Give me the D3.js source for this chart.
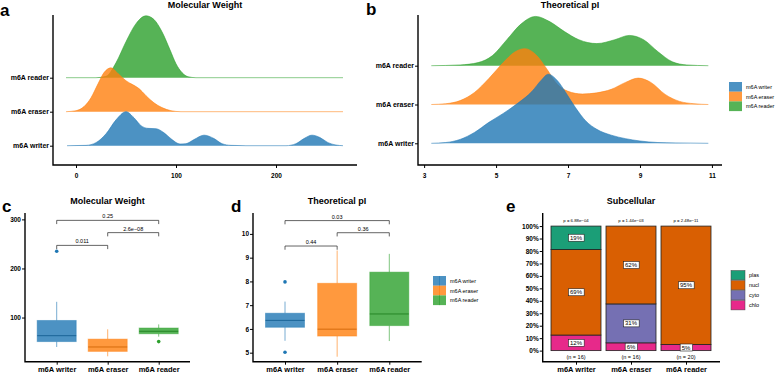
<!DOCTYPE html>
<html lang="en">
<head>
<meta charset="UTF-8">
<title>m6A regulators: molecular weight, pI and subcellular location</title>
<script src="https://d3js.org/d3.v7.min.js"></script>
<style>
    body { margin: 0; background: #fff; }
    svg { font-family: 'Liberation Sans', Arial, sans-serif; }
    svg text { fill: #000; }
    .tick text { font-size: 6.5px; font-weight: bold; fill: #000; }
    .tick line { stroke: #000; stroke-width: 1; }
    .frame { fill: none; stroke: #000; stroke-width: 1.4; }
    .title { font-size: 9px; font-weight: bold; text-anchor: middle; }
    .letter { font-size: 17px; font-weight: bold; }
    .legend text { font-size: 5.5px; }
</style>
</head>
<body>
<svg id="chart" width="778" height="374"></svg>
<script>
const groups = ["m6A writer", "m6A eraser", "m6A reader"];
const groupColors = ["#1f77b4", "#ff7f0e", "#2ca02c"];

// ridge profiles: [value, height in row steps]
const mwWriter = [[-9,0],[10,0.01],[20,0.09],[30,0.35],[40,0.76],[50,1.0],[58,0.82],[65,0.59],[72,0.51],[80,0.5],[88,0.38],[96,0.18],[104,0.05],[110,0.06],[118,0.18],[128,0.31],[138,0.21],[146,0.06],[155,0.01],[170,0],[210,0],[220,0.06],[228,0.21],[236,0.31],[244,0.24],[252,0.09],[260,0.02],[267,0]];
const mwEraser = [[-10,0],[0,0.03],[8,0.15],[15,0.41],[22,0.82],[28,1.15],[35,1.29],[42,1.12],[50,0.91],[57,0.79],[63,0.68],[70,0.47],[78,0.26],[86,0.12],[95,0.03],[105,0],[267,0]];
const mwReader = [[-10,0],[20,0],[30,0.04],[40,0.44],[50,1.06],[60,1.59],[70,1.82],[78,1.71],[86,1.35],[94,0.82],[100,0.41],[106,0.15],[112,0.03],[120,0],[267,0]];

const piWriter = [[3.2,0],[3.6,0.02],[4.0,0.1],[4.4,0.28],[4.8,0.54],[5.2,0.77],[5.6,1.03],[6.0,1.34],[6.25,1.62],[6.45,1.78],[6.7,1.62],[6.95,1.29],[7.2,0.93],[7.5,0.57],[7.8,0.36],[8.2,0.21],[8.6,0.12],[9.0,0.06],[9.5,0.02],[10.0,0.01],[10.9,0]];
const piEraser = [[3.2,0],[3.6,0.02],[4.0,0.1],[4.4,0.31],[4.8,0.67],[5.2,1.08],[5.5,1.34],[5.8,1.44],[6.1,1.29],[6.4,0.93],[6.7,0.52],[7.0,0.34],[7.4,0.27],[7.8,0.3],[8.2,0.39],[8.6,0.57],[8.95,0.68],[9.3,0.57],[9.7,0.26],[10.1,0.08],[10.5,0.02],[10.9,0]];
const piReader = [[3.2,0],[4.0,0.02],[4.5,0.08],[4.9,0.26],[5.3,0.67],[5.7,1.08],[6.1,1.27],[6.5,1.13],[6.9,0.88],[7.3,0.67],[7.8,0.57],[8.3,0.67],[8.7,0.78],[9.1,0.67],[9.5,0.36],[9.9,0.1],[10.3,0.02],[10.9,0]];

const mwTicks = [0, 100, 200];
const piTicks = [3, 5, 7, 9, 11];

// boxplot stats: [lower whisker, q1, median, q3, upper whisker]
const mwStats = [[40, 51, 63, 94, 132], [21, 31, 40, 56, 76], [61, 67, 72, 78.6, 86]];
const mwOutliers = [[235], [], [51]];
const mwBoxTicks = [100, 200, 300];
const mwTests = [["m6A writer", "m6A eraser", "0.011", 247], ["m6A eraser", "m6A reader", "2.6e\u221208", 273], ["m6A writer", "m6A reader", "0.25", 298]];

const piStats = [[5.5, 6.07, 6.36, 6.66, 7.15], [4.83, 5.7, 5.99, 7.92, 9.3], [5.49, 6.14, 6.63, 8.39, 9.16]];
const piOutliers = [[7.98, 5.02], [], []];
const piBoxTicks = [5, 6, 7, 8, 9, 10];
const piTests = [["m6A writer", "m6A eraser", "0.44", 9.49], ["m6A eraser", "m6A reader", "0.36", 10.05], ["m6A writer", "m6A reader", "0.03", 10.56]];

// subcellular counts, stacked bottom to top
const subClasses = ["chlo", "cyto", "nucl", "plas"];
const subColors = ["#e7298a", "#7570b3", "#d95f02", "#1b9e77"];
const writerCounts = [2, 0, 11, 3];
const eraserCounts = [1, 5, 10, 0];
const readerCounts = [1, 0, 19, 0];
const subPvalues = ["p = 6.88e\u221204", "p = 1.44e\u221203", "p = 2.48e\u221211"];
const pctTicks = [0, 0.1, 0.2, 0.3, 0.4, 0.5, 0.6, 0.7, 0.8, 0.9, 1];

const svg = d3.select("#chart");

function frame(left, top, right, bottom) {
    svg.append("path").attr("class", "frame")
        .attr("d", `M${left},${top}V${bottom}H${right}`);
}

function letter(txt, x, y) {
    svg.append("text").attr("class", "letter").attr("x", x).attr("y", y).text(txt);
}

function title(txt, x, y) {
    svg.append("text").attr("class", "title").attr("x", x).attr("y", y).text(txt);
}

function ridgePanel(p) {
    const x = d3.scaleLinear().domain(p.xDomain).range([p.left, p.right]);
    const y = d3.scalePoint().domain(groups).range([p.base0, p.base2]);
    const h = d3.scaleLinear().domain([0, 1]).range([0, p.step]);

    // reader first so the lower ridges overlap it
    [2, 1, 0].forEach(i => {
        const b = y(groups[i]);
        const area = d3.area().x(d => x(d[0])).y0(b).y1(d => b - h(d[1])).curve(d3.curveMonotoneX);
        const line = d3.line().x(d => x(d[0])).y(d => b - h(d[1])).curve(d3.curveMonotoneX);
        svg.append("path").datum(p.series[i]).attr("d", area)
            .attr("fill", groupColors[i]).attr("fill-opacity", 0.8);
        svg.append("path").datum(p.series[i]).attr("d", line)
            .attr("fill", "none").attr("stroke", groupColors[i]).attr("stroke-opacity", 0.55).attr("stroke-width", 1);
    });

    svg.append("g").attr("transform", `translate(${p.left},0)`)
        .call(d3.axisLeft(y).tickSize(3).tickPadding(1))
        .call(g => g.select(".domain").remove())
        .selectAll("text").style("font-size", "7px");
    svg.append("g").attr("transform", `translate(0,${p.bottom})`)
        .call(d3.axisBottom(x).tickValues(p.ticks).tickFormat(d3.format("d")).tickSize(3).tickPadding(5))
        .call(g => g.select(".domain").remove());
    frame(p.left, p.top, p.right, p.bottom);
}

function boxPanel(p) {
    const x = d3.scalePoint().domain(groups).range([p.c0, p.c2]);
    const y = d3.scaleLinear().domain(p.yDomain).range([p.bottom, p.top]);
    const bw = 39;

    p.stats.forEach((s, i) => {
        const cx = x(groups[i]), col = groupColors[i];
        svg.append("line").attr("x1", cx).attr("x2", cx).attr("y1", y(s[0])).attr("y2", y(s[1]))
            .attr("stroke", col).attr("stroke-opacity", 0.6);
        svg.append("line").attr("x1", cx).attr("x2", cx).attr("y1", y(s[3])).attr("y2", y(s[4]))
            .attr("stroke", col).attr("stroke-opacity", 0.6);
        svg.append("rect").attr("x", cx - bw / 2).attr("y", y(s[3]))
            .attr("width", bw).attr("height", y(s[1]) - y(s[3]))
            .attr("fill", col).attr("fill-opacity", 0.8)
            .attr("stroke", col).attr("stroke-opacity", 0.45).attr("stroke-width", 1);
        svg.append("line").attr("x1", cx - bw / 2).attr("x2", cx + bw / 2)
            .attr("y1", y(s[2])).attr("y2", y(s[2]))
            .attr("stroke", d3.color(col).darker(0.5)).attr("stroke-width", 1);
        p.outliers[i].forEach(v => {
            svg.append("circle").attr("cx", cx).attr("cy", y(v)).attr("r", 1.8).attr("fill", col);
        });
    });

    const tick = (p.yDomain[1] - p.yDomain[0]) * 0.025;
    p.tests.forEach(t => {
        const xa = x(t[0]), xb = x(t[1]);
        svg.append("path").attr("fill", "none").attr("stroke", "#222").attr("stroke-width", 0.7)
            .attr("d", `M${xa},${y(t[3] - tick)}V${y(t[3])}H${xb}V${y(t[3] - tick)}`);
        svg.append("text").attr("x", (xa + xb) / 2).attr("y", y(t[3]) - 2)
            .attr("text-anchor", "middle").style("font-size", "5.5px").text(t[2]);
    });

    svg.append("g").attr("transform", `translate(${p.left},0)`)
        .call(d3.axisLeft(y).tickValues(p.ticks).tickFormat(d3.format("d")).tickSize(3).tickPadding(1))
        .call(g => g.select(".domain").remove());
    svg.append("g").attr("transform", `translate(0,${p.bottom})`)
        .call(d3.axisBottom(x).tickSize(3).tickPadding(2))
        .call(g => g.select(".domain").remove())
        .selectAll("text").style("font-size", "7.5px");
    frame(p.left, p.top, p.right, p.bottom);
}

function groupLegend(x0, y0, step, boxes) {
    const g = svg.append("g").attr("class", "legend");
    groups.forEach((name, i) => {
        const yy = y0 + i * step;
        g.append("rect").attr("x", x0).attr("y", yy).attr("width", 13).attr("height", step)
            .attr("fill", groupColors[i]).attr("fill-opacity", 0.8);
        if (boxes) {
            g.append("line").attr("x1", x0 + 6.5).attr("x2", x0 + 6.5).attr("y1", yy).attr("y2", yy + step)
                .attr("stroke", groupColors[i]).attr("stroke-opacity", 0.6);
        }
        g.append("text").attr("x", x0 + 17).attr("y", yy + step / 2 + 2).text(name);
    });
}

// panel a
letter("a", 0, 16);
title("Molecular Weight", 205, 8);
ridgePanel({
    series: [mwWriter, mwEraser, mwReader], ticks: mwTicks,
    xDomain: [-23, 281], left: 53, right: 357, top: 15, bottom: 165,
    base0: 145.7, base2: 77.7, step: 34
});

// panel b
letter("b", 366, 15);
title("Theoretical pI", 570, 8);
ridgePanel({
    series: [piWriter, piEraser, piReader], ticks: piTicks,
    xDomain: [2.83, 11.28], left: 418, right: 722, top: 15, bottom: 165,
    base0: 143.3, base2: 65.7, step: 38.8
});
groupLegend(729, 82, 9.7, false);

// panel c
letter("c", 2, 212);
title("Molecular Weight", 107.5, 204);
boxPanel({
    stats: mwStats, outliers: mwOutliers, tests: mwTests, ticks: mwBoxTicks,
    yDomain: [10, 313], left: 25, right: 190, top: 213, bottom: 361.7, c0: 56.7, c2: 158.7
});

// panel d
letter("d", 231, 212);
title("Theoretical pI", 337, 204);
boxPanel({
    stats: piStats, outliers: piOutliers, tests: piTests, ticks: piBoxTicks,
    yDomain: [4.62, 10.88], left: 253, right: 421.7, top: 213, bottom: 361.7, c0: 285, c2: 389.3
});
groupLegend(433, 276, 9.7, true);

// panel e
letter("e", 506, 212);
title("Subcellular", 631, 204);
(function () {
    const counts = [writerCounts, eraserCounts, readerCounts];
    const rows = groups.map((gname, i) => {
        const r = { group: gname, n: d3.sum(counts[i]) };
        subClasses.forEach((c, j) => r[c] = counts[i][j]);
        return r;
    });
    const series = d3.stack().keys(subClasses).offset(d3.stackOffsetExpand)(rows);
    const x = d3.scalePoint().domain(groups).range([576, 686]);
    const y = d3.scaleLinear().domain([-0.089, 1.105]).range([361.7, 213]);
    const bw = 50;
    // R style rounding (half to even)
    const pct = v => {
        const s = v * 100, f = Math.floor(s);
        const r = Math.abs(s - f - 0.5) < 1e-9 ? (f % 2 === 0 ? f : f + 1) : Math.round(s);
        return r + "%";
    };

    series.forEach((ser, k) => {
        ser.forEach(d => {
            if (d[1] - d[0] <= 0) return;
            svg.append("rect").attr("x", x(d.data.group) - bw / 2).attr("y", y(d[1]))
                .attr("width", bw).attr("height", y(d[0]) - y(d[1]))
                .attr("fill", subColors[k]).attr("stroke", "#222").attr("stroke-width", 0.8);
        });
    });
    series.forEach(ser => {
        ser.forEach(d => {
            if (d[1] - d[0] <= 0) return;
            const cx = x(d.data.group), cy = y((d[0] + d[1]) / 2);
            const t = svg.append("text").attr("x", cx).attr("y", cy + 2)
                .attr("text-anchor", "middle").style("font-size", "6px").text(pct(d[1] - d[0]));
            const bb = t.node().getBBox();
            svg.insert("rect", () => t.node()).attr("x", bb.x - 1.5).attr("y", bb.y - 0.5)
                .attr("width", bb.width + 3).attr("height", bb.height + 1)
                .attr("fill", "#fff").attr("stroke", "#222").attr("stroke-width", 0.6);
        });
    });
    groups.forEach((gname, i) => {
        svg.append("text").attr("x", x(gname)).attr("y", 222.3).attr("text-anchor", "middle")
            .style("font-size", "4.3px").text(subPvalues[i]);
        svg.append("text").attr("x", x(gname)).attr("y", 358.6).attr("text-anchor", "middle")
            .style("font-size", "5.5px").text(`(n = ${rows[i].n})`);
    });

    svg.append("g").attr("transform", "translate(542.7,0)")
        .call(d3.axisLeft(y).tickValues(pctTicks).tickFormat(d3.format(".0%")).tickSize(3).tickPadding(1))
        .call(g => g.select(".domain").remove());
    svg.append("g").attr("transform", "translate(0,361.7)")
        .call(d3.axisBottom(x).tickSize(3).tickPadding(2))
        .call(g => g.select(".domain").remove())
        .selectAll("text").style("font-size", "7.5px");
    frame(542.7, 213, 720, 361.7);

    const lg = svg.append("g").attr("class", "legend");
    const order = subClasses.slice().reverse();
    order.forEach((c, i) => {
        const k = subClasses.indexOf(c);
        lg.append("rect").attr("x", 731).attr("y", 270.5 + i * 10).attr("width", 14).attr("height", 9.4)
            .attr("fill", subColors[k]).attr("stroke", "#444").attr("stroke-width", 0.5);
        lg.append("text").attr("x", 749).attr("y", 277.2 + i * 10).text(c);
    });
})();
</script>
</body>
</html>
